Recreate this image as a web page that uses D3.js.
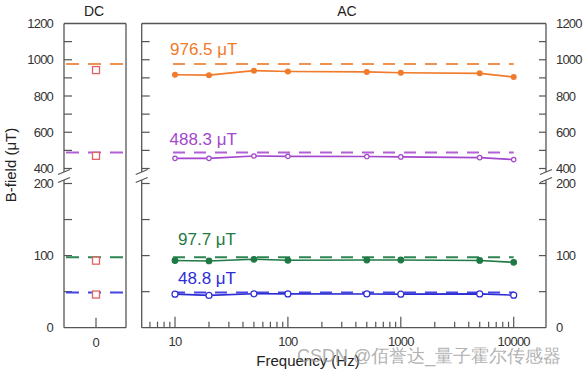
<!DOCTYPE html>
<html><head><meta charset="utf-8">
<script src="https://cdn.jsdelivr.net/npm/d3@7"></script>
<style>
body{margin:0;background:#fff;}
text{font-family:"Liberation Sans",Arial,sans-serif;}
</style></head>
<body><svg id="c" width="588" height="374"></svg>
<script>
// ---- data ----
const freqs = [10, 20, 50, 100, 500, 1000, 5000, 10000];
const setpoints = [976.5, 488.3, 97.7, 48.8];
const setLabels = ["976.5 μT", "488.3 μT", "97.7 μT", "48.8 μT"];
const acOrange = [917, 915, 940, 935, 933, 928, 925, 905];
const acPurple = [456, 456, 469, 467, 466, 464, 460, 449];
const acGreen  = [93.2, 92.6, 94.9, 93.5, 93.8, 93.9, 93.3, 90.7];
const acBlue   = [46.5, 44.8, 47.0, 46.9, 46.8, 46.5, 46.9, 45.1];
const dcValues = [943, 470, 93, 46];
const yTicksTop = [400, 500, 600, 700, 800, 900, 1000, 1100, 1200];
const yTicksBot = [0, 50, 100, 150, 200];
const yLabelsTop = [400, 600, 800, 1000, 1200];
const yLabelsBot = [0, 100, 200];
const xMajor = [10, 100, 1000, 10000];
const xMinor = [6,7,8,9,20,30,40,50,60,70,80,90,200,300,400,500,600,700,800,900,2000,3000,4000,5000,6000,7000,8000,9000];

const colors = ["#f07b2b", "#a347cc", "#1f7a45", "#2d2dd6"];
const dashColors = ["#f0924f", "#b260d8", "#2e8552", "#4545e0"];
const acSeries = [acOrange, acPurple, acGreen, acBlue];
const markerFill = [colors[0], "#fff", colors[2], "#fff"];
const markerR = [2.4, 2.2, 2.8, 3.0];

const svg = d3.select("#c");
const axisColor = "#555";
const txt = "#333";

// ---- scales ----
const yTop = d3.scaleLinear().domain([400, 1200]).range([168.5, 23.5]);
const yBot = d3.scaleLinear().domain([0, 200]).range([327.7, 183.5]);
const y = v => v >= 300 ? yTop(v) : yBot(v);
const x = d3.scaleLog().domain([10, 10000]).range([175, 513.7]);
const dcL = 64, dcR = 126, acL = 141.7, acR = 546, pTop = 23.5, pBot = 327.7;
const dcX = (dcL + dcR) / 2 + 1;
const brkA = 172, brkB = 180;

// ---- frames ----
function vline(xx, y1, y2) {
  svg.append("line").attr("x1", xx).attr("x2", xx).attr("y1", y1).attr("y2", y2)
    .attr("stroke", axisColor).attr("stroke-width", 1.3);
}
function hline(x1, x2, yy) {
  svg.append("line").attr("x1", x1).attr("x2", x2).attr("y1", yy).attr("y2", yy)
    .attr("stroke", axisColor).attr("stroke-width", 1.3);
}
hline(dcL, dcR, pTop); hline(dcL, dcR, pBot);
vline(dcL, pTop, brkA); vline(dcL, brkB, pBot);
vline(dcR, pTop, pBot);
hline(acL, acR, pTop); hline(acL, acR, pBot);
vline(acL, pTop, brkA); vline(acL, brkB, pBot);
vline(acR, pTop, brkA); vline(acR, brkB, pBot);

function brk(xx) {
  [brkA, brkB].forEach(yy => {
    svg.append("line").attr("x1", xx - 6).attr("x2", xx + 6)
      .attr("y1", yy + 2.5).attr("y2", yy - 2.5)
      .attr("stroke", axisColor).attr("stroke-width", 1.2);
  });
}
brk(dcL); brk(acL); brk(acR);

const allTicks = yTicksTop.map(v => yTop(v)).concat(yTicksBot.map(v => yBot(v)));
allTicks.forEach(py => {
  if (Math.abs(py - pTop) < 1 || Math.abs(py - pBot) < 1) return;
  svg.append("line").attr("x1", dcL).attr("x2", dcL + 8).attr("y1", py).attr("y2", py)
    .attr("stroke", axisColor).attr("stroke-width", 1.2);
  svg.append("line").attr("x1", acL).attr("x2", acL + 8).attr("y1", py).attr("y2", py)
    .attr("stroke", axisColor).attr("stroke-width", 1.2);
  svg.append("line").attr("x1", acR - 7).attr("x2", acR).attr("y1", py).attr("y2", py)
    .attr("stroke", axisColor).attr("stroke-width", 1.2);
});
const yl = yLabelsTop.map(v => [v, yTop(v)]).concat(yLabelsBot.map(v => [v, yBot(v)]));
yl.forEach(([v, py]) => {
  svg.append("text").attr("x", 53).attr("y", py + 4.5).attr("text-anchor", "end")
    .attr("font-size", 13).attr("letter-spacing", -0.8).attr("fill", txt).text(v);
  svg.append("text").attr("x", 556).attr("y", py + 4.5).attr("text-anchor", "start")
    .attr("font-size", 13).attr("letter-spacing", -0.8).attr("fill", txt).text(v);
});

xMajor.forEach(f => {
  svg.append("line").attr("x1", x(f)).attr("x2", x(f)).attr("y1", pBot).attr("y2", pBot - 11)
    .attr("stroke", axisColor).attr("stroke-width", 1.2);
  svg.append("text").attr("x", x(f)).attr("y", 346).attr("text-anchor", "middle")
    .attr("font-size", 13).attr("letter-spacing", -0.8).attr("fill", txt).text(f);
});
xMinor.forEach(f => {
  svg.append("line").attr("x1", x(f)).attr("x2", x(f)).attr("y1", pBot).attr("y2", pBot - 6)
    .attr("stroke", axisColor).attr("stroke-width", 1.2);
});
svg.append("line").attr("x1", dcX).attr("x2", dcX).attr("y1", pBot).attr("y2", pBot - 10)
  .attr("stroke", axisColor).attr("stroke-width", 1.2);
svg.append("text").attr("x", dcX).attr("y", 347).attr("text-anchor", "middle")
  .attr("font-size", 13).attr("fill", txt).text("0");

svg.append("text").attr("x", 94).attr("y", 15.5).attr("text-anchor", "middle")
  .attr("font-size", 14).attr("fill", "#222").text("DC");
svg.append("text").attr("x", 347).attr("y", 15.5).attr("text-anchor", "middle")
  .attr("font-size", 14).attr("fill", "#222").text("AC");
svg.append("text").attr("transform", "translate(16,165) rotate(-90)").attr("text-anchor", "middle")
  .attr("font-size", 15).attr("fill", "#222").text("B-field (μT)");
svg.append("text").attr("x", 308).attr("y", 366).attr("text-anchor", "middle")
  .attr("font-size", 15).attr("fill", "#222").text("Frequency (Hz)");

// ---- DC ----
setpoints.forEach((s, i) => {
  svg.append("line").attr("x1", dcL + 2).attr("x2", dcR).attr("y1", y(s)).attr("y2", y(s))
    .attr("stroke", dashColors[i]).attr("stroke-width", 2).attr("stroke-dasharray", "13,9");
});
dcValues.forEach(v => {
  svg.append("rect").attr("x", dcX - 3.5).attr("y", y(v) - 3.5).attr("width", 7).attr("height", 7)
    .attr("fill", "#fff").attr("stroke", "#e06262").attr("stroke-width", 1.3);
});

// ---- AC ----
const line = d3.line().x((d, i) => x(freqs[i])).y(d => y(d));
setpoints.forEach((s, i) => {
  svg.append("line").attr("x1", x(freqs[0]) - 2).attr("x2", x(freqs[freqs.length - 1]))
    .attr("y1", y(s)).attr("y2", y(s))
    .attr("stroke", dashColors[i]).attr("stroke-width", 2).attr("stroke-dasharray", "12,9");
});
acSeries.forEach((vals, i) => {
  svg.append("path").datum(vals).attr("d", line).attr("fill", "none")
    .attr("stroke", colors[i]).attr("stroke-width", 1.6);
  svg.selectAll(null).data(vals).enter().append("circle")
    .attr("cx", (d, j) => x(freqs[j])).attr("cy", d => y(d)).attr("r", markerR[i])
    .attr("fill", markerFill[i]).attr("stroke", colors[i]).attr("stroke-width", 1.2);
});
const labX = [170, 169.5, 178, 178];
const labY = [55, 145, 244.5, 283.5];
setLabels.forEach((t, i) => {
  svg.append("text").attr("x", labX[i]).attr("y", labY[i])
    .attr("font-family", "'Open Sans',sans-serif").attr("font-size", 17)
    .attr("fill", colors[i]).text(t);
});

svg.append("text").attr("x", 297).attr("y", 362)
  .attr("font-family", "'Noto Sans CJK SC',sans-serif").attr("font-size", 18)
  .attr("fill", "#999").attr("opacity", 0.75).text("CSDN @佰誉达_量子霍尔传感器");
</script></body></html>
